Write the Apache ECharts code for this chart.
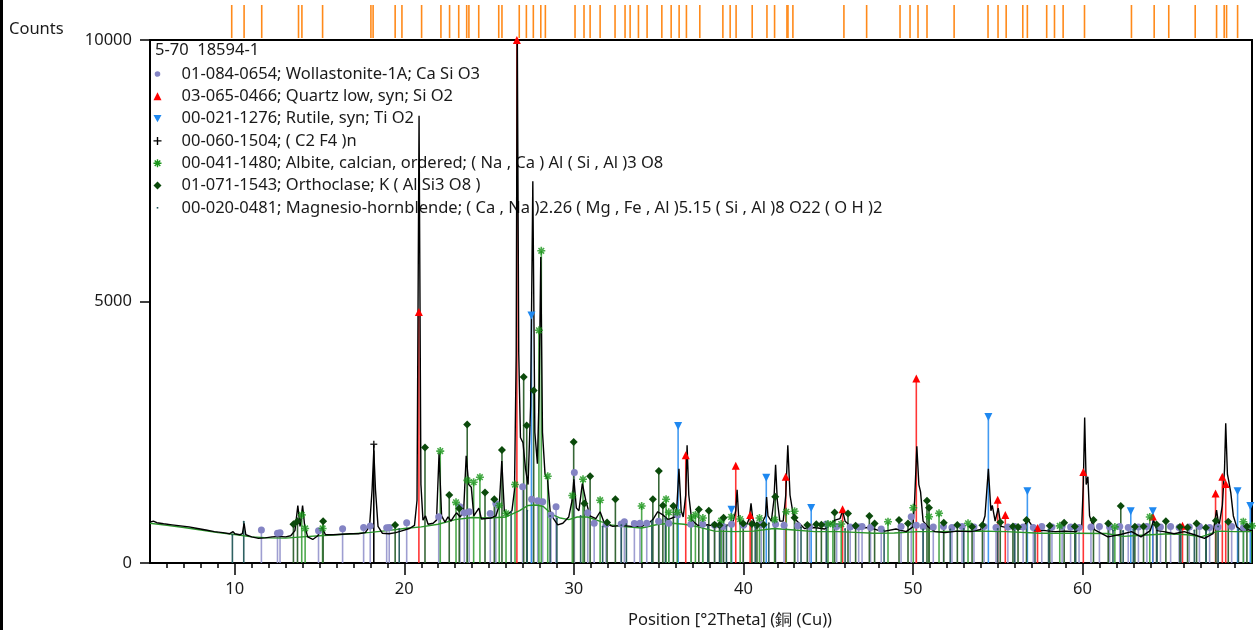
<!DOCTYPE html>
<html><head><meta charset="utf-8">
<script src="https://cdn.jsdelivr.net/npm/echarts@6/dist/echarts.min.js"></script>
<style>html,body{margin:0;padding:0;background:#fff}#c{width:1258px;height:630px}</style>
</head><body><div id="c"></div>
<script>
// ---------- data ----------
const observed = [[5.0,780],[5.2,800],[5.4,770],[5.8,750],[6.3,730],[6.8,710],[7.3,690],[7.8,660],[8.3,630],[8.8,600],[9.3,580],[9.7,560],[9.9,600],[10.0,560],[10.3,540],[10.45,560],[10.55,760],[10.65,540],[11.0,500],[11.4,470],[11.8,480],[12.2,500],[12.6,510],[13.0,500],[13.3,520],[13.55,620],[13.72,1100],[13.85,700],[14.0,1100],[14.12,720],[14.3,500],[14.6,450],[14.9,520],[15.15,680],[15.35,540],[15.8,540],[16.3,550],[16.8,560],[17.3,560],[17.7,580],[17.95,700],[18.1,1400],[18.2,2150],[18.3,1400],[18.45,700],[18.7,570],[19.1,560],[19.5,580],[19.9,620],[20.3,660],[20.6,720],[20.75,1200],[20.87,8550],[20.98,1500],[21.1,820],[21.25,900],[21.4,740],[21.7,760],[21.9,820],[22.05,2100],[22.2,900],[22.4,780],[22.58,880],[22.75,800],[22.95,900],[23.08,960],[23.3,880],[23.5,1000],[23.65,2050],[23.8,1500],[23.95,1450],[24.1,900],[24.4,1050],[24.55,840],[24.8,850],[25.1,860],[25.4,900],[25.6,1100],[25.75,1950],[25.9,1000],[26.05,920],[26.35,1000],[26.5,1400],[26.6,4000],[26.66,10500],[26.75,4000],[26.85,2400],[27.0,2300],[27.15,1800],[27.3,1500],[27.45,3000],[27.58,7300],[27.7,2500],[27.85,1900],[27.95,3200],[28.05,5850],[28.15,2500],[28.3,1700],[28.45,1600],[28.6,1000],[28.8,850],[29.05,730],[29.35,760],[29.7,880],[29.9,1200],[30.0,1600],[30.15,1050],[30.3,1000],[30.5,1520],[30.7,1200],[30.95,900],[31.3,850],[31.55,980],[31.8,760],[32.3,700],[32.8,720],[33.4,700],[34.0,700],[34.4,760],[34.66,830],[34.95,980],[35.25,920],[35.55,830],[35.95,880],[36.08,1100],[36.2,1800],[36.33,1000],[36.45,880],[36.6,1300],[36.68,2250],[36.78,1300],[36.95,820],[37.3,720],[37.9,730],[38.5,690],[39.1,730],[39.4,800],[39.55,1000],[39.63,1400],[39.72,900],[39.85,700],[40.15,700],[40.35,850],[40.45,1140],[40.55,850],[40.7,730],[41.05,730],[41.3,900],[41.37,1260],[41.45,900],[41.65,800],[41.8,1200],[41.9,1880],[42.0,1200],[42.15,800],[42.35,800],[42.5,1300],[42.62,2250],[42.75,1300],[42.85,1300],[42.95,900],[43.1,820],[43.6,660],[44.2,680],[44.8,650],[45.4,820],[45.7,850],[45.85,1000],[46.0,800],[46.2,740],[46.6,660],[47.4,680],[48.2,600],[49.0,650],[49.6,600],[50.0,690],[50.1,1200],[50.23,2230],[50.35,1500],[50.45,1360],[50.6,800],[50.9,690],[51.3,600],[51.9,580],[52.6,610],[53.4,600],[54.0,640],[54.25,900],[54.45,1800],[54.6,1000],[54.68,1100],[54.85,800],[55.03,1050],[55.2,700],[55.8,660],[56.4,650],[56.8,820],[57.2,630],[57.8,620],[58.4,600],[59.0,610],[59.6,600],[59.95,660],[60.05,1500],[60.13,2780],[60.22,1500],[60.32,1650],[60.42,900],[60.7,640],[61.5,500],[62.3,550],[62.9,600],[63.45,500],[64.0,620],[64.2,820],[64.4,620],[64.8,600],[65.4,560],[66.0,600],[66.6,540],[67.2,470],[67.7,560],[67.91,1010],[68.05,700],[68.25,1100],[68.38,1800],[68.45,2670],[68.55,1700],[68.62,1580],[68.75,1340],[68.9,900],[69.1,690],[69.4,620],[69.7,640],[70.0,620]];

const background = [[5,760],[6,720],[7,680],[8,630],[9,580],[10,545],[11,500],[12,480],[13,475],[14,500],[15,520],[16,540],[17,560],[18,585],[19,620],[20,660],[21,690],[22,740],[23,830],[24,870],[25,860],[26,880],[26.8,1000],[27.3,1100],[27.8,1110],[28.2,1080],[28.7,930],[29.2,860],[29.7,830],[30.2,880],[30.8,880],[31.6,790],[32.2,730],[32.8,700],[34.0,670],[35.0,740],[35.8,760],[36.5,740],[37.2,700],[38.3,610],[39.5,600],[40.6,610],[41.8,660],[43.0,630],[44.2,600],[45.6,600],[46.6,585],[47.7,570],[48.9,575],[50.3,600],[51.6,600],[53.6,613],[55.5,600],[57.5,570],[59.5,570],[61.4,565],[62.4,510],[63.5,530],[65.1,560],[66.2,540],[67.0,500],[68.0,610],[69.0,600],[70.0,600]];

const wollastonite = [[11.57,630],[12.52,567],[12.67,578],[14.94,616],[16.36,654],[17.6,681],[17.99,706],[18.96,674],[19.11,681],[20.14,769],[22.03,884],[23.28,1074],[23.54,960],[23.83,979],[25.07,948],[25.4,1139],[26.98,1456],[27.51,1221],[27.87,1189],[28.16,1170],[28.65,916],[28.95,1074],[30.03,1730],[30.82,960],[31.2,760],[31.9,740],[32.79,744],[32.98,788],[33.57,757],[33.9,760],[34.3,760],[35.0,800],[35.6,760],[36.12,916],[36.9,740],[37.6,740],[38.3,720],[38.8,700],[39.3,740],[40.0,720],[41.05,738],[41.9,740],[42.4,720],[43.21,712],[43.9,700],[44.89,744],[45.5,700],[46.3,690],[46.8,690],[47.0,700],[47.5,680],[48.13,648],[49.3,700],[49.9,884],[50.2,720],[50.6,700],[51.2,690],[51.8,700],[52.3,680],[52.9,700],[53.6,690],[54.2,700],[54.9,680],[55.6,690],[56.0,700],[56.5,690],[57.1,680],[57.6,700],[58.2,690],[58.8,700],[59.3,690],[59.8,680],[60.5,690],[61.0,700],[61.6,690],[62.2,700],[62.7,680],[63.3,690],[63.8,700],[64.6,690],[65.2,700],[65.7,680],[66.3,690],[66.9,700],[67.5,680],[68.0,690],[68.8,700],[69.5,680]];

const quartz = [[20.86,4800],[26.64,10000],[36.6,2060],[39.55,1860],[40.4,920],[42.5,1650],[45.85,1030],[50.2,3530],[55.0,1210],[55.45,920],[57.35,670],[60.05,1740],[64.15,890],[65.9,710],[67.85,1330],[68.25,1650],[68.45,1510]];

const rutile = [[27.5,4730],[36.15,2620],[39.3,1020],[41.35,1630],[44.0,1050],[54.45,2790],[56.75,1370],[62.85,990],[64.15,990],[69.15,1370],[69.9,1090]];

const ptfe = [[18.2,2270]];

const albite = [[13.95,920],[14.15,660],[15.18,660],[22.12,2140],[23.05,1160],[23.72,1580],[24.09,1545],[24.46,1640],[25.6,1100],[26.0,950],[26.53,1500],[27.94,4450],[28.08,5970],[28.46,1660],[29.91,1290],[30.54,1600],[31.55,1200],[34.0,1090],[35.44,1220],[35.6,970],[36.1,970],[36.92,860],[37.17,920],[37.61,860],[38.69,810],[39.28,880],[39.81,840],[40.95,860],[41.84,830],[42.53,980],[43.02,990],[44.99,745],[45.28,745],[45.77,745],[48.53,790],[50.02,1055],[50.95,885],[51.54,950],[53.25,760],[58.66,710],[61.91,690],[63.97,880],[69.49,790],[70.0,710]];

const orthoclase = [[13.46,740],[13.7,800],[15.21,800],[19.46,725],[21.22,2210],[22.65,1300],[23.24,1040],[23.71,2650],[24.76,1350],[25.31,1220],[25.76,2160],[27.04,3555],[27.22,2630],[27.63,3300],[29.99,2315],[30.62,1140],[30.96,1660],[31.96,775],[32.45,1220],[34.66,1220],[35.01,1760],[35.25,1100],[35.87,1090],[37.37,1025],[37.96,1000],[38.3,730],[38.6,720],[38.83,865],[39.99,757],[40.5,744],[40.8,720],[41.2,730],[41.88,1265],[43.02,865],[43.77,725],[44.3,740],[44.6,730],[45.38,967],[46.17,948],[46.62,712],[47.43,897],[47.74,757],[49.18,820],[49.71,757],[50.83,1190],[50.95,1055],[51.82,770],[52.62,725],[53.49,693],[54.1,720],[55.15,780],[55.9,700],[56.2,690],[56.7,820],[58.07,712],[58.92,770],[59.55,700],[60.65,820],[61.52,757],[62.26,1090],[63.09,693],[63.6,700],[64.37,738],[64.92,800],[65.75,690],[66.2,680],[66.73,757],[67.28,674],[67.87,807],[68.6,788],[69.7,700]];

const hornblende = [[9.86,540],[10.53,790],[19.7,650],[26.3,980],[27.25,1000],[28.6,900],[29.0,850],[30.4,900],[31.7,700],[32.8,720],[33.1,740],[34.6,800],[35.4,850],[37.9,700],[38.6,700],[39.0,700],[40.7,690],[41.5,760],[43.4,680],[44.9,680],[46.0,650],[48.3,620],[50.6,640],[52.2,640],[53.0,650],[55.0,650],[56.0,660],[57.2,620],[58.0,640],[59.6,630],[61.8,620],[62.4,610],[63.0,640],[64.4,650],[65.8,640],[66.6,620],[67.3,600],[68.0,700],[69.2,640]];

const refTicks = [9.82,10.55,11.59,13.76,13.96,15.18,18.03,18.16,19.46,19.86,21.02,22.16,22.67,23.21,23.68,23.81,24.39,25.57,25.76,26.78,27.20,27.61,28.05,28.32,30.07,30.60,30.96,31.55,32.43,33.02,33.32,33.81,34.32,35.19,35.74,36.21,36.64,37.43,38.79,39.22,39.57,40.52,41.39,41.84,42.57,42.63,42.92,45.93,47.27,49.24,49.83,50.30,50.83,52.43,54.43,55.02,55.50,56.48,56.75,57.89,58.35,58.86,60.12,62.89,64.23,65.09,66.65,67.91,68.36,68.50,69.15];

const xLabelValues = [10,20,30,40,50,60];
const xMinorValues = [6,7,8,9,11,12,13,14,15,16,17,18,19,21,22,23,24,25,26,27,28,29,31,32,33,34,35,36,37,38,39,41,42,43,44,45,46,47,48,49,51,52,53,54,55,56,57,58,59,61,62,63,64,65,66,67,68,69];

const phaseNames = ['01-084-0654; Wollastonite-1A; Ca Si O3','03-065-0466; Quartz low, syn; Si O2','00-021-1276; Rutile, syn; Ti O2','00-060-1504; ( C2 F4 )n','00-041-1480; Albite, calcian, ordered; ( Na , Ca ) Al ( Si , Al )3 O8','01-071-1543; Orthoclase; K ( Al Si3 O8 )','00-020-0481; Magnesio-hornblende; ( Ca , Na )2.26 ( Mg , Fe , Al )5.15 ( Si , Al )8 O22 ( O H )2'];
const sampleTitle = '5-70  18594-1';
const yAxisTitle = 'Counts';
const xAxisTitle = 'Position [°2Theta] (銅 (Cu))';

// ---------- styling ----------
const FONT = "'Noto Sans','Open Sans',sans-serif";
const FS = 16.5;
const TXT = '#1a1a1a';
const ASTERISK = 'path://M5,0L5,10M0,5L10,5M1.5,1.5L8.5,8.5M1.5,8.5L8.5,1.5';
const PLUS = 'path://M5,0L5,10M0,5L10,5';
const DOWN_TRI = 'path://M0,0L10,0L5,9Z';
const DOT = 'path://M0,0L0,0M10,10L10,10M4,4L6,4L6,6L4,6Z';
const SMALL_CIRCLE = 'path://M0,0L0,0M10,10L10,10M5,1.5A3.5,3.5,0,1,1,4.99,1.5Z';

const phases = [
  {data: wollastonite, stick: '#9494cc', stickOpacity: 0.9, symbol: 'circle', size: 7, fill: '#8484c4', legendIcon: SMALL_CIRCLE},
  {data: quartz, stick: '#ff2020', stickOpacity: 0.9, symbol: 'triangle', size: 8, fill: '#ff0000', legendIcon: 'triangle'},
  {data: rutile, stick: '#2e8ff0', stickOpacity: 0.9, symbol: DOWN_TRI, size: 8, fill: '#1e88f0', legendIcon: DOWN_TRI},
  {data: ptfe, stick: '#000000', stickOpacity: 1, symbol: PLUS, size: 7, fill: 'none', border: '#000', legendIcon: PLUS},
  {data: albite, stick: '#2f9a2f', stickOpacity: 0.85, symbol: ASTERISK, size: 8, fill: 'none', border: '#1a961a', legendIcon: ASTERISK},
  {data: orthoclase, stick: '#2c5f2c', stickOpacity: 0.95, symbol: 'diamond', size: 8, fill: '#0b4a0b', legendIcon: 'diamond'},
  {data: hornblende, stick: '#24585a', stickOpacity: 0.95, symbol: 'circle', size: 2, fill: '#24585a', legendIcon: DOT}
];

const series = [];
phases.forEach((p, i) => {
  series.push({
    type: 'custom', name: phaseNames[i], data: p.data, z: 2, clip: true, silent: true,
    encode: {x: 0, y: 1},
    renderItem(params, api) {
      const x = api.value(0), y = api.value(1);
      const a = api.coord([x, 0]), b = api.coord([x, y]);
      return {type: 'line', shape: {x1: a[0], y1: a[1], x2: b[0], y2: b[1]},
        style: {stroke: p.stick, lineWidth: 1.6, opacity: p.stickOpacity}};
    }
  });
});
phases.forEach((p, i) => {
  series.push({
    type: 'scatter', name: phaseNames[i], data: p.data, z: 6, symbol: p.symbol, symbolSize: p.size,
    silent: true,
    itemStyle: p.border ? {color: 'none', borderColor: p.border, borderWidth: 1.6} : {color: p.fill, opacity: 1}
  });
});
series.push({type: 'line', name: 'Background', data: background, showSymbol: false, z: 3, silent: true,
  lineStyle: {color: '#2a952a', width: 1.4}});
series.push({type: 'line', name: 'Observed', data: observed, showSymbol: false, z: 4, silent: true,
  lineStyle: {color: '#000', width: 1.4}});
series.push({type: 'custom', name: 'ref', xAxisIndex: 2, yAxisIndex: 1, data: refTicks.map(v => [v, 1]),
  encode: {x: 0, y: 1}, silent: true,
  renderItem(params, api) {
    const x = api.value(0);
    const a = api.coord([x, 0]), b = api.coord([x, 1]);
    return {type: 'line', shape: {x1: a[0], y1: a[1], x2: b[0], y2: b[1]}, style: {stroke: '#ff8a1a', lineWidth: 1.6}};
  }});

const legendData = phases.map((p, i) => {
  const item = {name: phaseNames[i], icon: p.legendIcon};
  if (p.border) item.itemStyle = {color: 'none', borderColor: p.border, borderWidth: 1.4};
  else item.itemStyle = {color: p.fill, borderWidth: 0};
  return item;
});

const chart = echarts.init(document.getElementById('c'), null, {renderer: 'canvas'});
chart.setOption({
  animation: false,
  backgroundColor: '#fff',
  textStyle: {fontFamily: FONT},
  grid: [
    {left: 150, right: 6, top: 40, bottom: 67, show: true, borderColor: '#000', borderWidth: 2, backgroundColor: 'transparent'},
    {left: 150, right: 6, top: 5, height: 33, show: false}
  ],
  xAxis: [
    {type: 'value', gridIndex: 0, min: 5, max: 70, splitLine: {show: false},
      axisLine: {show: true, onZero: false, lineStyle: {color: '#000', width: 2}},
      axisTick: {show: true, customValues: xLabelValues, length: 12, lineStyle: {color: '#000', width: 1.5}},
      axisLabel: {customValues: xLabelValues, color: TXT, fontSize: FS, fontFamily: FONT, margin: 18}},
    {type: 'value', gridIndex: 0, min: 5, max: 70, position: 'bottom', splitLine: {show: false},
      axisLine: {show: false}, axisLabel: {show: false},
      axisTick: {show: true, customValues: xMinorValues, length: 5, lineStyle: {color: '#000', width: 1.5}}},
    {type: 'value', gridIndex: 1, min: 5, max: 70, show: false}
  ],
  yAxis: [
    {type: 'value', gridIndex: 0, min: 0, max: 10000, interval: 5000, splitLine: {show: false},
      axisLine: {show: true, lineStyle: {color: '#000', width: 2}},
      axisTick: {show: true, length: 10, lineStyle: {color: '#000', width: 1.5}},
      axisLabel: {color: TXT, fontSize: FS, fontFamily: FONT, margin: 18, formatter: v => String(v)}},
    {type: 'value', gridIndex: 1, min: 0, max: 1, show: false}
  ],
  legend: {
    orient: 'vertical', left: 151, top: 65, padding: 0, itemWidth: 8, itemHeight: 8, itemGap: 4.3,
    selectedMode: false, data: legendData,
    textStyle: {fontFamily: FONT, fontSize: FS, color: TXT, lineHeight: 18, padding: [0, 0, 0, 15]}
  },
  graphic: [
    {type: 'rect', left: 0, top: 0, shape: {width: 3, height: 630}, style: {fill: '#000'}},
    {type: 'text', left: 9, top: 21, style: {text: yAxisTitle, font: FS + 'px ' + FONT, fill: TXT}},
    {type: 'text', left: 155, top: 42, style: {text: sampleTitle, font: FS + 'px ' + FONT, fill: TXT}},
    {type: 'text', left: 628, top: 612, style: {text: xAxisTitle, font: FS + 'px ' + FONT, fill: TXT}}
  ],
  series
});
</script></body></html>
